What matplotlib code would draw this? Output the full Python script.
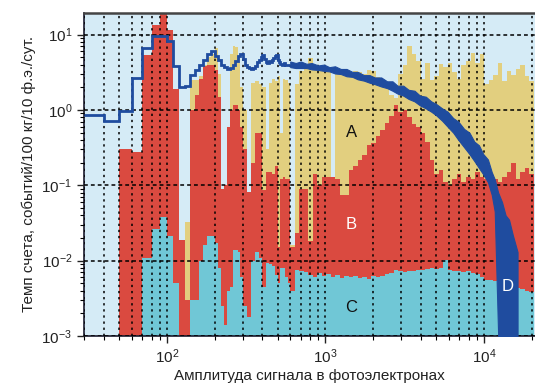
import numpy as np
import matplotlib
matplotlib.use("Agg")
import matplotlib.pyplot as plt
from matplotlib.ticker import LogLocator, FuncFormatter, NullFormatter

plt.rcParams["font.family"] = ["Liberation Sans", "DejaVu Sans"]
plt.rcParams["mathtext.fontset"] = "custom"
plt.rcParams["mathtext.rm"] = "Liberation Sans"
plt.rcParams["mathtext.default"] = "regular"

# bin edges: 10 p.e. up to 300, 20 p.e. up to 600, then rebinned
edges_lo = list(range(30, 301, 10))
edges_mid = list(range(320, 601, 20))
edges_hi = [640, 680, 730, 780, 830, 890, 950, 1010, 1080, 1150, 1230, 1310,
            1400, 1500, 1600, 1710, 1830, 1950, 2080, 2220, 2370, 2530, 2700,
            2880, 3080, 3290, 3510, 3750, 4000, 4270, 4560, 4870, 5200, 5550,
            5930, 6330, 6760, 7220, 7710, 8230, 8790, 9390, 10030, 10710,
            11440, 12220, 13050, 13940, 14890, 15900, 16980, 18130, 19360, 20680]

# spectrum A (all events)
a_lo = [0, 0, 0.30, 0.28, 5.4, 13.6, 25, 11.6, 1.9, 0.019, 0.033, 2.5, 2.5,
        2.8, 3.9, 5.0, 5.5, 6.6, 3.0, 0.09, 0.1, 0.6, 5.5, 7.0, 6.8, 5.0, 2.0]
a_mid = [1.0, 0.082, 2.3, 2.4, 2.2, 2.0, 0.3, 2.3, 2.6, 2.4, 2.8, 0.5, 2.6,
         2.5, 2.3]
a_hi = [0.016, 2.2, 3.3, 3.8, 4.9, 3.7, 3.3, 3.6, 3.2, 0.13, 3.0, 3.3, 3.4,
        3.1, 3.3, 3.2, 3.0, 3.4, 3.3, 2.7, 2.2, 2.0, 1.6, 1.45, 3.0, 4.0, 7.0,
        5.5, 4.5, 2.6, 4.2, 2.5, 2.8, 4.1, 3.7, 4.2, 3.2, 2.6, 4.0, 4.4, 5.7,
        4.2, 5.5, 2.2, 2.5, 2.9, 4.2, 2.4, 3.3, 2.9, 3.5, 4.0, 2.8, 2.4]

# spectrum B
b_lo = [0, 0, 0.30, 0.28, 5.4, 13.6, 25, 11.6, 1.9, 0.019, 0.003, 1.0, 1.6,
        2.6, 3.8, 4.0, 4.0, 3.4, 1.5, 0.09, 0.1, 0.6, 1.0, 1.15, 1.15, 1.0, 0.6]
b_mid = [0.3, 0.082, 0.2, 0.5, 0.5, 0.086, 0.15, 0.15, 0.14, 0.18, 0.015,
         0.12, 0.13, 0.12, 0.12]
b_hi = [0.015, 0.023, 0.09, 0.09, 0.018, 0.14, 0.10, 0.13, 0.13, 0.13, 0.12,
        0.075, 0.075, 0.16, 0.18, 0.22, 0.25, 0.34, 0.36, 0.45, 0.54, 0.67,
        0.83, 1.15, 0.95, 1.0, 0.8, 0.65, 0.6, 0.5, 0.38, 0.22, 0.14, 0.16,
        0.11, 0.10, 0.12, 0.14, 0.11, 0.13, 0.12, 0.15, 0.13, 0.12, 0.14,
        0.12, 0.11, 0.13, 0.15, 0.20, 0.12, 0.15, 0.17, 0.14]

# spectrum C
c_lo = [0, 0, 0, 0, 0.011, 0.026, 0.038, 0.021, 0.0051, 0, 0, 0.003, 0.003,
        0.010, 0.016, 0.021, 0.021, 0.017, 0.008, 0.0025, 0.0014, 0.004,
        0.0045, 0.014, 0.014, 0.013, 0.006]
c_mid = [0.0025, 0.0018, 0.010, 0.013, 0.011, 0.0045, 0.0093, 0.009, 0.0085,
         0.0065, 0.005, 0.008, 0.008, 0.006, 0.005]
c_hi = [0.004, 0.0075, 0.0072, 0.007, 0.0065, 0.006, 0.0068, 0.0062, 0.0066,
        0.006, 0.0064, 0.0058, 0.0063, 0.006, 0.0062, 0.0058, 0.006, 0.0057,
        0.0062, 0.006, 0.0063, 0.0066, 0.0068, 0.0075, 0.0072, 0.007, 0.0074,
        0.0072, 0.0076, 0.0075, 0.0078, 0.008, 0.0078, 0.008, 0.0102, 0.0076,
        0.0074, 0.0072, 0.007, 0.0072, 0.0068, 0.0066, 0.006, 0.0056, 0.0055,
        0.0053, 0.005, 0.0048, 0.0046, 0.0045, 0.0043, 0.0042, 0.004, 0.0038]

# spectrum D: 10 p.e. steps at low amplitude, then the noisy band
d_edges = list(range(30, 601, 10))
d_lo = [0.87, 0.72, 0.96, 2.66, 6.6, 9.5, 9.5, 8.2, 3.8, 2.0, 2.1, 2.9, 3.4,
        4.0, 4.6, 5.6, 6.0, 5.2, 4.6, 4.0, 3.7, 3.5, 3.6, 3.9, 4.5, 5.2, 5.5,
        4.8, 4.0, 3.7, 3.6, 3.5, 3.6, 3.8, 4.3, 4.6, 5.0, 5.3, 4.7, 4.3, 4.2,
        4.5, 4.3, 4.6, 4.9, 5.2, 5.4, 4.6, 4.3, 4.1, 4.0, 3.9, 4.2, 4.0, 3.9,
        4.0, 4.0]
d_band_x = [600, 650, 700, 760, 820, 900, 980, 1060, 1150, 1250, 1360, 1480,
            1600, 1750, 1900, 2050, 2250, 2450, 2650, 2850, 3100, 3350, 3650,
            3950, 4300, 4650, 5000, 5450, 5900, 6400, 6900, 7500, 8100, 8700,
            9300, 9900, 10600, 11200, 11700, 12300, 13000, 13700, 14400,
            15200, 16300]
d_upper = [4.4, 4.2, 4.4, 4.1, 4.2, 3.9, 4.0, 3.7, 3.8, 3.5, 3.5, 3.2, 3.2,
           2.9, 2.9, 2.7, 2.7, 2.4, 2.4, 2.1, 2.1, 1.85, 1.8, 1.55, 1.5, 1.3,
           1.2, 1.05, 0.95, 0.78, 0.7, 0.56, 0.5, 0.38, 0.34, 0.26, 0.22,
           0.15, 0.12, 0.08, 0.06, 0.04, 0.035, 0.022, 0.013]
d_lower = [3.7, 3.6, 3.6, 3.6, 3.45, 3.4, 3.3, 3.25, 3.05, 3.0, 2.8, 2.75, 2.55,
           2.45, 2.3, 2.2, 2.05, 1.95, 1.8, 1.65, 1.55, 1.4, 1.3, 1.15, 1.05,
           0.95, 0.85, 0.72, 0.6, 0.5, 0.4, 0.32, 0.26, 0.21, 0.17, 0.14, 0.11,
           0.075, 0.045, 0.001, 0.001, 0.001, 0.001, 0.001, 0.001]

edges = np.array(edges_lo + edges_mid + edges_hi, dtype=float)
floor = 1e-6


def series(lo, mid, hi):
    v = np.array(lo + mid + hi, dtype=float)
    return np.where(v > 0, v, floor)


col_bg = "#d5ebf6"
col_a = "#e2cf7f"
col_b = "#da4a40"
col_c = "#70c7d6"
col_d = "#1f4c9f"

fig = plt.figure(figsize=(5.35, 3.86), dpi=100)
ax = fig.add_axes([0.157, 0.1295, 0.843, 0.837])
ax.set_facecolor(col_bg)

ax.stairs(series(a_lo, a_mid, a_hi), edges, fill=True, baseline=floor,
          color=col_a, zorder=1)
ax.stairs(series(b_lo, b_mid, b_hi), edges, fill=True, baseline=floor,
          color=col_b, zorder=1.1)
ax.stairs(series(c_lo, c_mid, c_hi), edges, fill=True, baseline=floor,
          color=col_c, zorder=1.2)

ax.stairs(d_lo, d_edges, baseline=None, color=col_d, lw=2.0, zorder=3)
ax.fill_between(d_band_x, d_lower, d_upper, color=col_d, lw=0.8,
                edgecolor=col_d, zorder=3)

ax.set_xscale("log")
ax.set_yscale("log")
ax.set_xlim(30, 21000)
ax.set_ylim(1e-3, 19.4)

ax.xaxis.set_major_locator(LogLocator(base=10))
ax.xaxis.set_minor_locator(LogLocator(base=10, subs=np.arange(2, 10)))
ax.yaxis.set_major_locator(LogLocator(base=10))
ax.yaxis.set_minor_locator(LogLocator(base=10, subs=np.arange(2, 10)))


def pow_label(v, pos):
    e = int(round(np.log10(v)))
    return "10$^{%s}$" % ("\u2212%d" % -e if e < 0 else "%d" % e)


ax.xaxis.set_major_formatter(FuncFormatter(pow_label))
ax.yaxis.set_major_formatter(FuncFormatter(pow_label))
ax.xaxis.set_minor_formatter(NullFormatter())
ax.yaxis.set_minor_formatter(NullFormatter())

ax.set_axisbelow(False)
ax.grid(True, which="both", axis="x", color="black", ls=(0, (1.5, 2.5)),
        lw=1.1)
ax.grid(True, which="major", axis="y", color="black", ls=(0, (2.5, 2)),
        lw=1.1)

ax.tick_params(which="major", direction="out", length=5, width=1,
               labelsize=11, colors="#222222")
ax.tick_params(which="minor", direction="out", length=3, width=0.8)
for s in ("left", "bottom"):
    ax.spines[s].set_color("#1a1a2e")
    ax.spines[s].set_linewidth(1.2)
ax.spines["top"].set_color("#444444")
ax.spines["top"].set_linewidth(1.8)
ax.spines["right"].set_visible(False)

ax.set_xlabel("Амплитуда сигнала в фотоэлектронах", fontsize=11,
              color="#222222", labelpad=2)
ax.set_ylabel("Темп счета, событий/100 кг/10 ф.э./сут.", fontsize=11,
              color="#222222", labelpad=4)

ax.text(1460, 0.5, "A", fontsize=12, color="#111111", ha="center",
        va="center", zorder=5)
ax.text(1460, 0.03, "B", fontsize=12, color="white", ha="center",
        va="center", zorder=5)
ax.text(1460, 0.0024, "C", fontsize=12, color="#111111", ha="center",
        va="center", zorder=5)
ax.text(14200, 0.0046, "D", fontsize=12, color="white", ha="center",
        va="center", zorder=5)

fig.savefig("out.png", dpi=100)
